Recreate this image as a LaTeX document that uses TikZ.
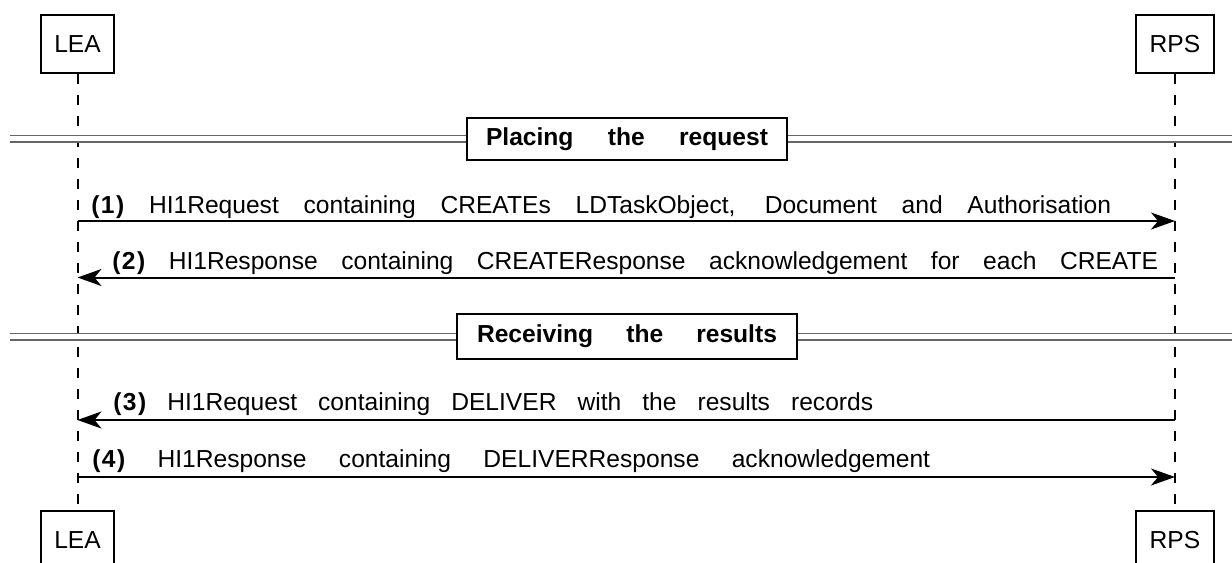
\documentclass[tikz,border=0pt]{standalone}
\usepackage{fontspec}
\setmainfont{Liberation Sans}
\usetikzlibrary{arrows.meta}

\tikzset{
  actor/.style={draw, line width=0.04cm, minimum height=1.16cm, inner sep=0pt},
  lifeline/.style={line width=0.04cm, dash pattern=on 0.2cm off 0.22cm},
  msgarrow/.style={line width=0.04cm, -{Stealth[length=0.48cm, width=0.34cm, inset=0.14cm]}},
  msgtext/.style={anchor=base west, inner sep=0pt},
  phase/.style={draw, fill=white, line width=0.04cm, inner sep=0pt,
    font=\fontsize{14pt}{17pt}\selectfont\bfseries},
  sepline/.style={draw=black!60, line width=0.03cm, double=white, double distance=0.1cm}
}

\begin{document}
\begin{tikzpicture}[x=0.02cm, y=-0.02cm, font=\fontsize{14pt}{17pt}\selectfont]
    \useasboundingbox (0, 0) rectangle (1232, 562);
    \clip (0, 0) rectangle (1232, 562);

    % actors, top and bottom
    \node[actor, minimum width=1.46cm] (leaTop) at (77.5, 44) {LEA};
    \node[actor, minimum width=1.56cm] (rpsTop) at (1175, 44) {RPS};
    \node[actor, minimum width=1.46cm] (leaBot) at (77.5, 540) {LEA};
    \node[actor, minimum width=1.56cm] (rpsBot) at (1175, 540) {RPS};

    \draw[lifeline] (leaTop.south) -- (leaBot.north);
    \draw[lifeline] (rpsTop.south) -- (rpsBot.north);

    % phase separators
    \coordinate (sepAl) at (10, 138.5);
    \coordinate (sepAr) at (1240, 138.5);
    \coordinate (sepBl) at (10, 336.5);
    \coordinate (sepBr) at (1240, 336.5);
    \draw[sepline] (sepAl) -- (sepAr);
    \draw[sepline] (sepBl) -- (sepBr);
    \node[phase, minimum width=6.4cm, minimum height=0.84cm] (placing) at (627, 139)
      {\makebox[5.64cm][s]{Placing the request}\hspace{0.24cm}};
    \node[phase, minimum width=6.8cm, minimum height=0.9cm] (receiving) at (627, 336.5)
      {\makebox[6.0cm][s]{Receiving the results}\hspace{0.1cm}};

    % messages
    \coordinate (lea1) at (77.5, 221);
    \coordinate (rps1) at (1175, 221);
    \coordinate (lea2) at (77.5, 277.5);
    \coordinate (rps2) at (1175, 277.5);
    \coordinate (lea3) at (77.5, 420);
    \coordinate (rps3) at (1175, 420);
    \coordinate (lea4) at (77.5, 477);
    \coordinate (rps4) at (1175, 477);

    \draw[msgarrow] (lea1) -- (rps1);
    \draw[msgarrow] (rps2) -- (lea2);
    \draw[msgarrow] (rps3) -- (lea3);
    \draw[msgarrow] (lea4) -- (rps4);

    \node[msgtext] (m1) at (91, 213)
      {\makebox[20.4cm][s]{\textbf{(\kern0.8pt1\kern0.8pt)} HI1Request containing CREATEs LDTaskObject, Document and Authorisation}};
    \node[msgtext] (m2) at (112, 269.5)
      {\makebox[20.92cm][s]{\textbf{(\kern0.8pt2\kern0.8pt)} HI1Response containing CREATEResponse acknowledgement for each CREATE}};
    \node[msgtext] (m3) at (113, 410)
      {\makebox[15.2cm][s]{\textbf{(\kern0.8pt3\kern0.8pt)} HI1Request containing DELIVER with the results records}};
    \node[msgtext] (m4) at (92, 467)
      {\makebox[16.76cm][s]{\textbf{(\kern0.8pt4\kern0.8pt)} HI1Response containing DELIVERResponse acknowledgement}};
\end{tikzpicture}
\end{document}
